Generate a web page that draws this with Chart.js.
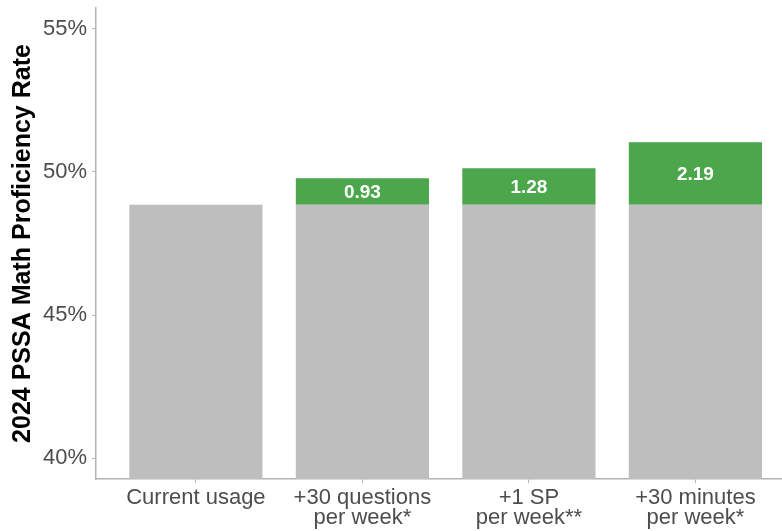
<!DOCTYPE html>
<html>
<head>
<meta charset="utf-8">
<script src="https://cdn.jsdelivr.net/npm/chart.js@4.4.1/dist/chart.umd.min.js"></script>
<style>
  html, body { margin: 0; padding: 0; background: #ffffff; }
  #wrap { width: 782px; height: 531px; position: relative; }
</style>
</head>
<body>
<div id="wrap"><canvas id="c" width="782" height="531"></canvas></div>
<script>
// Scenario categories (multi-line axis labels)
const categories = [
  ["Current usage"],
  ["+30 questions", "per week*"],
  ["+1 SP", "per week**"],
  ["+30 minutes", "per week*"]
];
// Baseline proficiency rate (%) under current usage
const baseRate = [48.85, 48.85, 48.85, 48.85];
// Additional percentage points gained in each scenario
const gains = [null, 0.93, 1.28, 2.19];
// Y axis tick values (%)
const yTicks = [40, 45, 50, 55];

const positions = categories.map((_, i) => i + 1);
const FONT = '"Liberation Sans", Arial, sans-serif';

const barLabels = {
  id: 'barLabels',
  afterDatasetsDraw(chart) {
    const ctx = chart.ctx;
    const meta = chart.getDatasetMeta(1);
    ctx.save();
    ctx.fillStyle = '#ffffff';
    ctx.font = 'bold 19px ' + FONT;
    ctx.textAlign = 'center';
    ctx.textBaseline = 'middle';
    meta.data.forEach((bar, i) => {
      const v = gains[i];
      if (v == null) return;
      const p = bar.getProps(['x', 'y', 'base'], true);
      ctx.fillText(v.toFixed(2), p.x, (p.y + p.base) / 2 + 1);
    });
    ctx.restore();
  }
};

new Chart(document.getElementById('c'), {
  type: 'bar',
  data: {
    datasets: [
      {
        label: 'Current usage',
        data: positions.map((x, i) => ({ x, y: baseRate[i] })),
        backgroundColor: '#bebebe',
        barPercentage: 0.8,
        categoryPercentage: 1.0
      },
      {
        label: 'Gain',
        data: positions.map((x, i) => ({ x, y: gains[i] })),
        backgroundColor: '#4ca64c',
        barPercentage: 0.8,
        categoryPercentage: 1.0
      }
    ]
  },
  options: {
    responsive: false,
    animation: false,
    layout: { padding: { top: 8, right: 0, left: 0, bottom: 0 } },
    plugins: { legend: { display: false }, tooltip: { enabled: false } },
    scales: {
      x: {
        type: 'linear',
        stacked: true,
        offset: false,
        min: 0.4,
        max: 4.52,
        afterBuildTicks(scale) { scale.ticks = positions.map(v => ({ value: v })); },
        afterFit(scale) { scale.height = 52; scale.paddingLeft = 0; scale.paddingRight = 0; },
        ticks: {
          autoSkip: false,
          maxRotation: 0,
          padding: 5,
          color: '#4d4d4d',
          font: { family: FONT, size: 22, lineHeight: 0.9 },
          callback: (v) => categories[v - 1] || ''
        },
        grid: { offset: false, drawOnChartArea: false, drawTicks: true, tickLength: 4, color: '#b3b3b3' },
        border: { color: '#b3b3b3', width: 1.5 }
      },
      y: {
        stacked: true,
        min: 39.27,
        max: 55.73,
        afterBuildTicks(scale) { scale.ticks = yTicks.map(v => ({ value: v })); },
        afterFit(scale) { scale.width = 96; scale.paddingTop = 0; scale.paddingBottom = 0; },
        ticks: {
          padding: 5,
          color: '#4d4d4d',
          font: { family: FONT, size: 22 },
          callback: (v) => v + '%'
        },
        grid: { drawOnChartArea: false, drawTicks: true, tickLength: 4, color: '#b3b3b3' },
        border: { color: '#b3b3b3', width: 1.5 },
        title: {
          display: true,
          text: '2024 PSSA Math Proficiency Rate',
          color: '#000000',
          font: { family: FONT, size: 25, weight: 'bold' },
          padding: { top: 8, bottom: 0 }
        }
      }
    }
  },
  plugins: [barLabels]
});
</script>
</body>
</html>
